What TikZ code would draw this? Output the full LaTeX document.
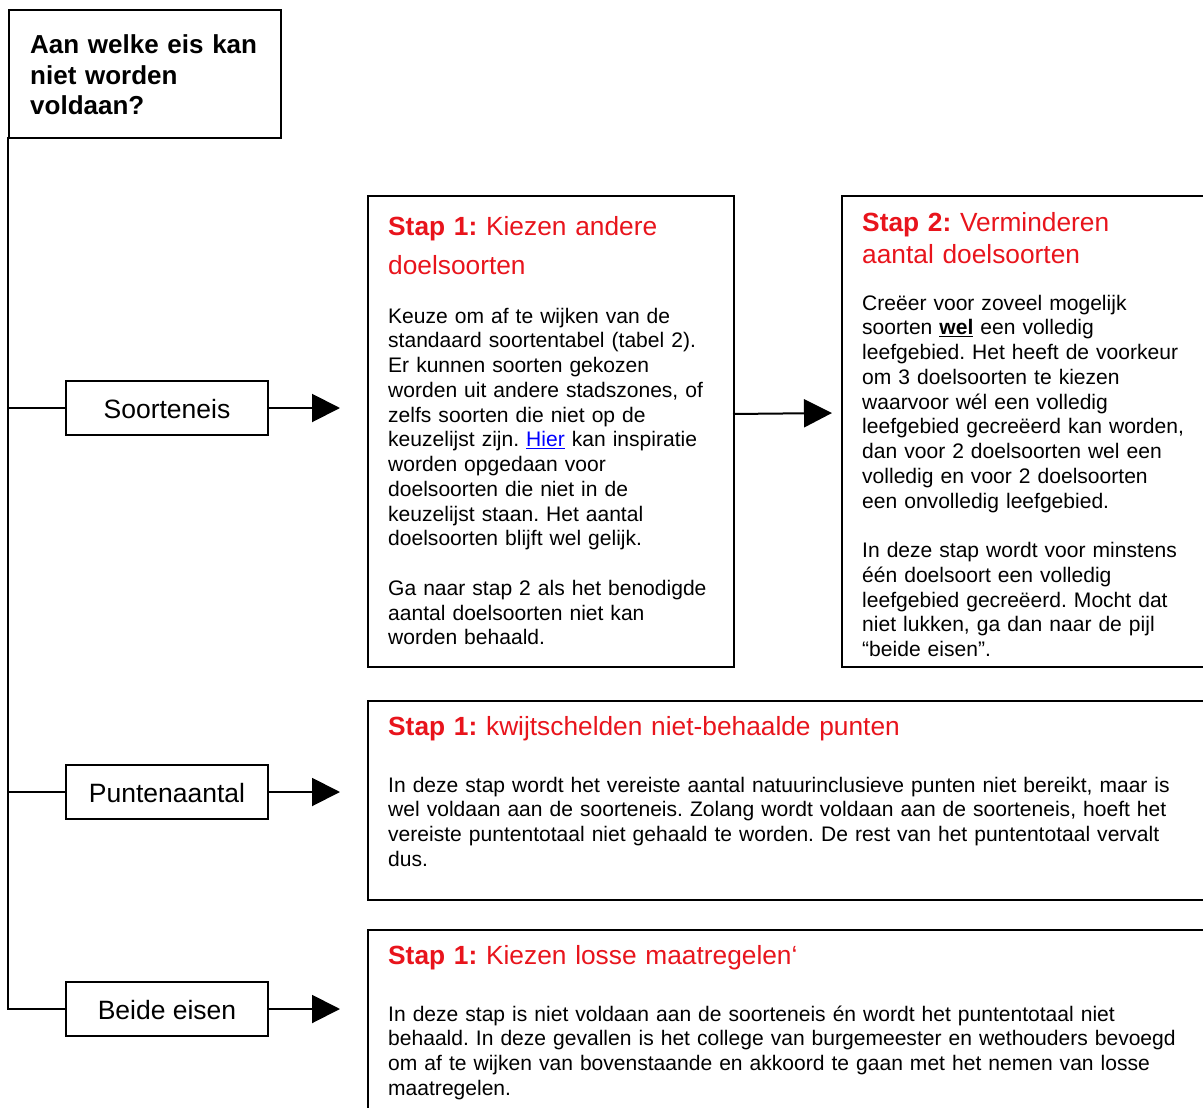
\documentclass[tikz,border=0pt]{standalone}
\usepackage{fontspec}
\setmainfont{Liberation Sans}
\usetikzlibrary{arrows.meta}
\frenchspacing
\definecolor{stapred}{RGB}{232,20,28}
\definecolor{linkblue}{RGB}{0,0,255}
\newcommand\bodyfnt{\fontsize{21.05}{24.75}\selectfont}
\newcommand\labfnt{\fontsize{26.5}{30.5}\selectfont}
\tikzset{
  box/.style={draw=black, line width=2pt, inner sep=0pt, anchor=north west},
  lab/.style={draw=black, line width=2pt, minimum width=202pt, minimum height=54pt, inner sep=0pt, font=\labfnt},
  txt/.style={inner sep=0pt, anchor=base west, align=left},
  head/.style={txt, text=stapred},
  conn/.style={line width=2pt},
  arr/.style={line width=2pt, -{Triangle[length=28pt,width=28pt]}},
}
\begin{document}
\begin{tikzpicture}[x=1pt,y=-1pt]
\useasboundingbox (0,0) rectangle (1203,1108);
% title
\node[box, minimum width=272pt, minimum height=128pt] (title) at (8,9) {};
\node[txt, text width=250pt, font=\bfseries\fontsize{26}{30.5}\selectfont] (titletxt) at (30,54) {Aan welke eis kan\\niet worden\\voldaan?};
% left labels
\node[lab] (soort) at (167,408) {};
\node[txt, anchor=base] (soorttxt) at (167,418.5) {\labfnt Soorteneis};
\node[lab] (punt) at (167,792) {};
\node[txt, anchor=base] (punttxt) at (167,802) {\labfnt Puntenaantal};
\node[lab] (beide) at (167,1009) {};
\node[txt, anchor=base] (beidetxt) at (167,1019) {\labfnt Beide eisen};
% trunk
\coordinate (trunktop) at (8,137);
\coordinate (jA) at (8,408);
\coordinate (jB) at (8,792);
\coordinate (jC) at (8,1009);
\draw[conn] (trunktop) -- (jC) -- (beide.west);
\draw[conn] (jA) -- (soort.west);
\draw[conn] (jB) -- (punt.west);
% step boxes
\node[box, minimum width=366pt, minimum height=471pt] (s1) at (367,195) {};
\node[box, minimum width=380pt, minimum height=471pt] (s2) at (841,195) {};
\node[box, minimum width=850pt, minimum height=199pt] (p1) at (367,700) {};
\node[box, minimum width=850pt, minimum height=200pt] (b1) at (367,929) {};
% arrows
\coordinate (tA) at (340,408);
\coordinate (tB) at (340,792);
\coordinate (tC) at (340,1009);
\coordinate (s1out) at (733,414);
\coordinate (tS2) at (832,413);
\draw[arr] (soort.east) -- (tA);
\draw[arr] (punt.east) -- (tB);
\draw[arr] (beide.east) -- (tC);
\draw[arr] (s1out) -- (tS2);
% Stap 1 box text
\node[head, text width=330pt, font=\fontsize{26.3}{39}\selectfont] (s1h) at (388,235) {\textbf{Stap 1:} Kiezen andere\\doelsoorten};
\node[txt, text width=340pt, font=\bodyfnt] (s1b) at (388,323) {Keuze om af te wijken van de\\
standaard soortentabel (tabel 2).\\
Er kunnen soorten gekozen\\
worden uit andere stadszones, of\\
zelfs soorten die niet op de\\
keuzelijst zijn. {\color{linkblue}\underline{Hier}} kan inspiratie\\
worden opgedaan voor\\
doelsoorten die niet in de\\
keuzelijst staan. Het aantal\\
doelsoorten blijft wel gelijk.\\
\mbox{}\\
Ga naar stap 2 als het benodigde\\
aantal doelsoorten niet kan\\
worden behaald.};
% Stap 2 box text
\node[head, text width=330pt, font=\fontsize{26.3}{32}\selectfont] (s2h) at (862,231) {\textbf{Stap 2:} Verminderen\\aantal doelsoorten};
\node[txt, text width=340pt, font=\bodyfnt] (s2b) at (862,310) {Creëer voor zoveel mogelijk\\
soorten \textbf{\underline{wel}} een volledig\\
leefgebied. Het heeft de voorkeur\\
om 3 doelsoorten te kiezen\\
waarvoor wél een volledig\\
leefgebied gecreëerd kan worden,\\
dan voor 2 doelsoorten wel een\\
volledig en voor 2 doelsoorten\\
een onvolledig leefgebied.\\
\mbox{}\\
In deze stap wordt voor minstens\\
één doelsoort een volledig\\
leefgebied gecreëerd. Mocht dat\\
niet lukken, ga dan naar de pijl\\
“beide eisen”.};
% Punten box text
\node[head, text width=820pt, font=\fontsize{26.3}{32}\selectfont] (p1h) at (388,735) {\textbf{Stap 1:} kwijtschelden niet-behaalde punten};
\node[txt, text width=820pt, font=\bodyfnt] (p1b) at (388,792) {In deze stap wordt het vereiste aantal natuurinclusieve punten niet bereikt, maar is\\
wel voldaan aan de soorteneis. Zolang wordt voldaan aan de soorteneis, hoeft het\\
vereiste puntentotaal niet gehaald te worden. De rest van het puntentotaal vervalt\\
dus.};
% Beide box text
\node[head, text width=820pt, font=\fontsize{26.3}{32}\selectfont] (b1h) at (388,964) {\textbf{Stap 1:} Kiezen losse maatregelen\symbol{"60}};
\node[txt, text width=820pt, font=\bodyfnt] (b1b) at (388,1021) {In deze stap is niet voldaan aan de soorteneis én wordt het puntentotaal niet\\
behaald. In deze gevallen is het college van burgemeester en wethouders bevoegd\\
om af te wijken van bovenstaande en akkoord te gaan met het nemen van losse\\
maatregelen.};
\end{tikzpicture}
\end{document}
